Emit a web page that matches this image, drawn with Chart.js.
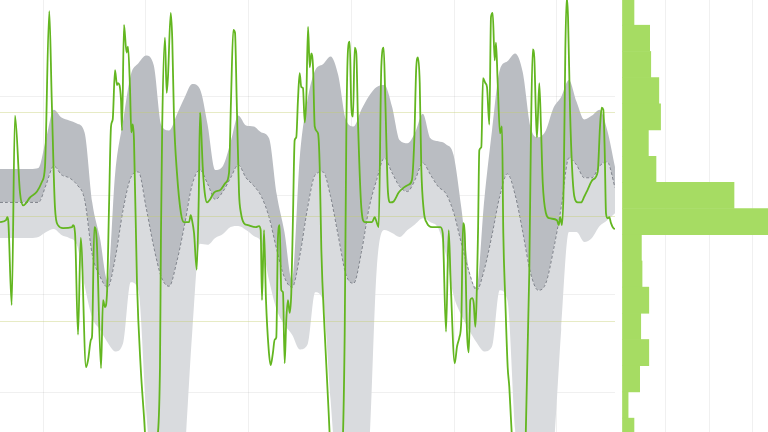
<!DOCTYPE html>
<html>
<head>
<meta charset="utf-8">
<script src="https://cdn.jsdelivr.net/npm/chart.js@4/dist/chart.umd.min.js"></script>
<style>
  html, body { margin: 0; padding: 0; background: #fff; }
  #wrap { position: relative; width: 768px; height: 432px; overflow: hidden; }
  #seriesBox { position: absolute; left: 0; top: 0; width: 615px; height: 432px; }
  #histBox { position: absolute; left: 622px; top: 0; width: 146px; height: 432px; }
</style>
</head>
<body>
<div id="wrap">
  <div id="seriesBox"><canvas id="seriesChart"></canvas></div>
  <div id="histBox"><canvas id="histChart"></canvas></div>
</div>
<script>
// measured signal (hours, value)
const lineHours = [
  0, 0.78, 0.95, 1.08, 1.52, 1.95, 2.60, 3.03, 3.90, 4.81,
  5.46, 5.85, 6.41, 6.73, 7.15, 7.54, 8.20, 9.37, 9.50, 9.76,
  10.15, 10.50, 11.19, 11.45, 11.84, 11.97, 12.27, 12.58, 13.14, 13.40,
  13.66, 13.92, 14.18, 14.44, 14.66, 14.96, 15.22, 15.35, 15.74, 15.87,
  16.13, 16.46, 16.65, 16.91, 17.08, 17.26, 17.43, 17.82, 18.30, 18.73,
  19.64, 20.40, 20.81, 20.94, 21.10, 21.46, 21.68, 21.85, 22.21, 22.41,
  22.63, 23.02, 23.54, 23.93, 24.59, 24.81, 24.98, 25.24, 25.59, 25.85,
  26.02, 26.15, 26.37, 26.63, 26.93, 27.32, 27.84, 28.71, 29.36, 29.79,
  30.05, 30.35, 30.57, 30.79, 31.09, 31.35, 31.74, 32.26, 33.30, 33.69,
  33.91, 34.08, 34.34, 34.60, 34.95, 35.21, 35.51, 35.73, 35.94, 36.16,
  36.38, 36.59, 36.81, 37.03, 37.24, 37.46, 37.68, 37.89, 38.11, 38.33,
  38.54, 38.76, 38.98, 39.19, 39.41, 39.64, 39.84, 40.07, 40.29, 40.49,
  40.72, 40.94, 41.37, 41.59, 41.80, 42.24, 42.67, 43.64, 44.58, 44.84,
  45.05, 45.27, 45.49, 45.70, 45.92, 46.14, 46.35, 46.57, 47.00, 47.44,
  48.39, 48.74, 48.91, 49.26, 49.60, 49.91, 50.12, 50.47, 50.77, 51.21,
  51.86, 52.51, 53.16, 53.59, 53.89, 54.15, 54.37, 54.60, 54.80, 55.12,
  55.54, 56.20, 57.28, 57.59, 58.02, 58.37, 58.63, 59.15, 59.45, 59.75,
  60.01, 60.23, 60.45, 60.75, 60.97, 61.18, 61.40, 61.62, 61.83, 62.18,
  62.35, 62.61, 62.83, 63.13, 63.35, 63.65, 63.87, 64.09, 64.35, 64.52,
  64.74, 65.04, 65.30, 65.47, 65.73, 66.04, 66.25, 66.47, 67.45, 68.36,
  68.85, 69.07, 69.30, 69.50, 69.72, 69.85, 70.15, 70.37, 70.60, 71.02,
  71.45, 72.45, 72.68, 72.88, 73.10, 73.33, 73.54, 73.72, 73.89, 74.15,
  74.41, 74.71, 75.15, 75.58, 76.01, 76.45, 77.10, 77.75, 78.05, 78.27,
  78.48, 78.66, 78.83, 79.05, 79.26, 79.48, 79.78, 80.00
];
const lineValues = [
  17.3, 17.5, 17.8, 17.4, 8.9, 28.1, 20.3, 19.0, 19.8, 20.4,
  21.4, 22.9, 38.7, 29.7, 18.8, 17.0, 16.7, 16.8, 17.0, 16.2,
  5.9, 15.7, 2.6, 3.3, 5.4, 5.7, 16.8, 15.5, 2.5, 9.4,
  8.7, 10.1, 18.8, 27.0, 27.7, 32.7, 31.2, 31.4, 29.7, 26.6,
  37.3, 34.5, 35.1, 30.9, 26.4, 27.2, 25.6, 11.1, 2.6, -2.4,
  -12.9, -5.3, 2.6, 16.2, 27.0, 36.0, 30.4, 32.0, 38.5, 35.8,
  28.0, 22.3, 18.2, 17.3, 17.3, 18.0, 17.5, 16.2, 12.5, 19.6,
  28.4, 27.0, 22.9, 20.3, 19.3, 19.6, 20.3, 20.6, 21.3, 22.3,
  29.7, 36.8, 36.5, 29.7, 20.3, 18.2, 17.2, 17.0, 16.8, 16.9,
  16.5, 9.4, 16.5, 9.4, 4.4, 2.8, 4.1, 5.4, 5.6, 15.8,
  17.0, 10.4, 10.2, 3.0, 7.4, 9.4, 8.1, 10.1, 17.8, 25.6,
  25.9, 29.7, 32.4, 31.0, 30.9, 27.4, 29.7, 37.1, 33.0, 34.4,
  33.0, 27.0, 26.3, 22.9, 14.5, 6.1, -0.7, -13.9, -5.3, 6.1,
  26.3, 34.8, 35.6, 29.0, 28.0, 35.0, 34.4, 27.4, 18.8, 17.3,
  17.3, 17.8, 17.5, 16.8, 33.0, 35.0, 29.7, 20.3, 19.3, 19.4,
  20.3, 20.8, 21.1, 21.6, 25.6, 33.0, 34.0, 31.4, 22.9, 18.5,
  17.2, 16.8, 16.8, 16.2, 6.2, 16.5, 11.1, 3.0, 4.7, 5.6,
  7.4, 17.2, 16.2, 6.1, 4.1, 9.4, 9.6, 9.1, 6.7, 16.2,
  24.6, 24.9, 31.9, 31.4, 31.0, 27.2, 38.1, 38.5, 33.7, 35.5,
  31.4, 26.3, 27.0, 16.2, 9.4, 2.6, 0.6, -2.7, -14.9, -5.3,
  12.2, 26.3, 34.8, 34.0, 28.0, 25.9, 31.4, 27.0, 21.3, 18.2,
  17.7, 17.5, 17.0, 17.8, 17.0, 21.3, 34.8, 40.1, 38.1, 28.7,
  22.9, 19.9, 19.3, 19.3, 19.9, 20.6, 21.6, 22.4, 27.0, 28.9,
  28.7, 24.6, 18.2, 17.7, 17.8, 17.2, 16.7, 16.6
];

// hourly profile bands
const bandHours = [
  0, 1, 2, 3, 4, 5, 6, 7, 8, 9, 10, 11, 12, 13, 14, 15, 16, 17, 18, 19,
  20, 21, 22, 23, 24, 25, 26, 27, 28, 29, 30, 31, 32, 33, 34, 35, 36, 37, 38, 39,
  40, 41, 42, 43, 44, 45, 46, 47, 48, 49, 50, 51, 52, 53, 54, 55, 56, 57, 58, 59,
  60, 61, 62, 63, 64, 65, 66, 67, 68, 69, 70, 71, 72, 73, 74, 75, 76, 77, 78, 79, 80
];
const bandUpper = [
  22.7, 22.7, 22.7, 22.7, 22.7, 22.8, 25.8, 28.7, 27.9, 27.6,
  27.3, 26.4, 19.3, 15.7, 11.4, 22.4, 27.5, 32.2, 33.4, 34.2,
  33.2, 27.1, 26.6, 28.2, 29.9, 31.3, 30.8, 27.2, 22.6, 23.0,
  25.4, 28.1, 27.1, 27.0, 26.4, 25.8, 20.1, 16.3, 11.4, 23.9,
  29.7, 32.7, 33.3, 34.1, 32.2, 27.7, 27.0, 28.7, 30.1, 31.0,
  31.2, 29.0, 25.6, 25.3, 26.4, 28.3, 25.8, 25.5, 25.2, 24.1,
  18.8, 12.5, 10.7, 19.6, 26.6, 32.7, 33.6, 34.4, 32.5, 27.0,
  25.9, 26.6, 28.9, 30.0, 31.7, 29.5, 27.7, 28.1, 28.7, 26.6,
  22.9
];
const bandMedian = [
  19.3, 19.3, 19.3, 19.3, 19.3, 19.3, 21.1, 23.0, 22.1, 21.8,
  21.1, 19.6, 14.0, 11.8, 10.7, 13.7, 18.5, 21.8, 22.4, 18.8,
  14.8, 11.7, 10.8, 13.3, 17.0, 21.1, 22.6, 21.2, 19.6, 20.4,
  21.8, 23.1, 21.8, 21.0, 19.9, 17.8, 14.5, 11.7, 10.7, 13.9,
  18.7, 22.1, 22.4, 19.9, 15.9, 12.0, 11.1, 14.2, 18.7, 21.6,
  23.8, 22.3, 20.9, 20.4, 21.6, 23.3, 22.1, 20.9, 20.2, 18.3,
  15.2, 12.3, 10.4, 12.5, 16.0, 19.9, 22.2, 20.1, 16.3, 12.2,
  10.4, 11.1, 14.5, 18.8, 23.8, 23.1, 21.8, 21.8, 23.0, 23.4,
  20.8
];
const bandLower = [
  15.7, 15.7, 15.7, 15.7, 15.7, 15.8, 16.3, 16.6, 16.0, 15.7,
  15.0, 10.9, 7.6, 6.4, 5.1, 4.2, 5.0, 11.2, 10.4, -1.7,
  -10.8, -15.4, -15.4, -11.9, -6.3, 6.1, 15.1, 15.0, 15.7, 16.1,
  16.8, 16.9, 16.5, 15.9, 15.2, 11.4, 8.4, 6.9, 5.9, 4.4,
  4.9, 10.2, 9.4, -0.7, -10.8, -15.4, -15.4, -11.9, -5.8, 12.5,
  16.5, 16.2, 15.8, 16.5, 17.1, 17.7, 17.3, 16.7, 14.0, 9.9,
  7.9, 6.4, 5.1, 4.2, 4.7, 10.4, 9.4, -3.7, -11.3, -15.9,
  -15.9, -12.4, -5.8, 6.4, 16.3, 16.3, 15.3, 15.7, 16.9, 17.5,
  18.2
];

// reference level (mean and one standard deviation)
const refMean = 17.9;
const refSd = 10.6;

// vertical grid positions (hours)
const xGridHours = [5.63, 18.99, 32.35, 45.71, 59.07, 72.43];

// value distribution
const histBins = [38.59, 35.94, 33.28, 30.63, 27.97, 25.32, 22.66, 20.01, 17.35,
  14.70, 12.04, 9.39, 6.73, 4.08, 1.42, -1.23, -3.89];
const histCounts = [5.5, 12.7, 13.2, 16.9, 17.7, 12.1, 15.6, 51.4, 75,
  8.9, 9.2, 12.3, 8.6, 12.3, 8.1, 2.8, 5.5];

const yMin = -3.97;
const yMax = 39.82;
const gridColor = "rgba(0, 0, 0, 0.06)";

const toPoints = (xs, ys) => xs.map((x, i) => ({ x, y: ys[i] }));

const refLines = {
  id: "refLines",
  beforeDatasetDraw(chart, args) {
    if (args.index !== 0) return;
    const { ctx, chartArea, scales } = chart;
    ctx.save();
    ctx.strokeStyle = "rgba(196, 204, 110, 0.4)";
    ctx.lineWidth = 1;
    [refMean + refSd, refMean, refMean - refSd].forEach((v) => {
      const py = Math.round(scales.y.getPixelForValue(v)) + 0.5;
      ctx.beginPath();
      ctx.moveTo(chartArea.left, py);
      ctx.lineTo(chartArea.right, py);
      ctx.stroke();
    });
    ctx.restore();
  }
};

function hiddenAxis(extra) {
  return {
    ticks: { display: false },
    border: { display: false },
    grid: { color: gridColor, drawTicks: false, tickLength: 0 },
    ...extra
  };
}

new Chart(document.getElementById("seriesChart"), {
  type: "line",
  data: {
    datasets: [
      {
        label: "Signal",
        data: toPoints(lineHours, lineValues),
        borderColor: "#63b620",
        borderWidth: 1.8,
        pointRadius: 0,
        cubicInterpolationMode: "monotone",
        fill: false
      },
      {
        label: "Median",
        data: toPoints(bandHours, bandMedian),
        borderColor: "#7f838b",
        borderWidth: 1,
        borderDash: [3, 2],
        pointRadius: 0,
        cubicInterpolationMode: "monotone",
        backgroundColor: "#d9dbde",
        fill: 3
      },
      {
        label: "Upper",
        data: toPoints(bandHours, bandUpper),
        borderColor: "rgba(0,0,0,0)",
        borderWidth: 0,
        pointRadius: 0,
        cubicInterpolationMode: "monotone",
        backgroundColor: "#babdc2",
        fill: 1
      },
      {
        label: "Lower",
        data: toPoints(bandHours, bandLower),
        borderColor: "rgba(0,0,0,0)",
        borderWidth: 0,
        pointRadius: 0,
        cubicInterpolationMode: "monotone",
        fill: false
      }
    ]
  },
  options: {
    responsive: true,
    maintainAspectRatio: false,
    animation: false,
    layout: { padding: 0 },
    plugins: { legend: { display: false }, tooltip: { enabled: false } },
    scales: {
      x: hiddenAxis({
        type: "linear",
        min: 0,
        max: 80,
        afterBuildTicks: (scale) => { scale.ticks = xGridHours.map((value) => ({ value })); }
      }),
      y: hiddenAxis({
        type: "linear",
        min: yMin,
        max: yMax,
        ticks: { display: false, stepSize: 10, includeBounds: false }
      })
    }
  },
  plugins: [refLines]
});

new Chart(document.getElementById("histChart"), {
  type: "bar",
  data: {
    datasets: [{
      label: "Distribution",
      data: histBins.map((y, i) => ({ x: histCounts[i], y })),
      backgroundColor: "#a6dc63",
      borderWidth: 0,
      barPercentage: 1,
      categoryPercentage: 1
    }]
  },
  options: {
    indexAxis: "y",
    responsive: true,
    maintainAspectRatio: false,
    animation: false,
    layout: { padding: 0 },
    plugins: { legend: { display: false }, tooltip: { enabled: false } },
    scales: {
      x: hiddenAxis({
        type: "linear",
        min: 0,
        max: 67,
        ticks: { display: false, stepSize: 20, includeBounds: false }
      }),
      y: hiddenAxis({
        type: "linear",
        min: yMin,
        max: yMax,
        offset: false,
        grid: { display: false, drawTicks: false },
        ticks: { display: false, stepSize: 5 }
      })
    }
  }
});
</script>
</body>
</html>
